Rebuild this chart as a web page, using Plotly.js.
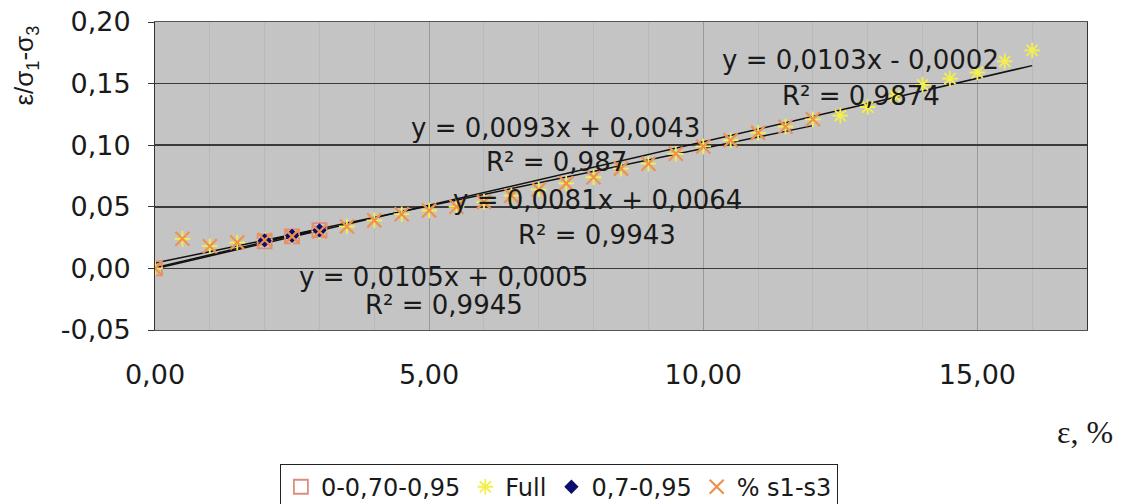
<!DOCTYPE html>
<html>
<head>
<meta charset="utf-8">
<script src="https://cdn.plot.ly/plotly-3.0.1.min.js"></script>
<style>
  html, body { margin: 0; padding: 0; background: #ffffff; }
  #chart { width: 1122px; height: 504px; }
</style>
</head>
<body>
<div id="chart"></div>
<script>
// ---- data ----
const seriesNames = ["0-0,70-0,95", "Full", "0,7-0,95", "% s1-s3"];

const squareX = [0, 2, 2.5, 3];
const squareY = [0.000, 0.022, 0.026, 0.031];

const fullX = [0, 0.5, 1, 1.5, 2, 2.5, 3, 3.5, 4, 4.5, 5, 5.5, 6, 6.5, 7, 7.5, 8, 8.5, 9, 9.5, 10, 10.5, 11, 11.5, 12, 12.5, 13, 13.5, 14, 14.5, 15, 15.5, 16];
const fullY = [0.000, 0.024, 0.018, 0.021, 0.023, 0.026, 0.030, 0.034, 0.039, 0.044, 0.047, 0.050, 0.054, 0.059, 0.064, 0.069, 0.074, 0.081, 0.085, 0.093, 0.099, 0.104, 0.110, 0.115, 0.121, 0.124, 0.131, 0.140, 0.149, 0.154, 0.159, 0.168, 0.177];

const diamondX = [2, 2.5, 3];
const diamondY = [0.0227, 0.0265, 0.0308];

const pctX = [0, 0.5, 1, 1.5, 2, 2.5, 3, 3.5, 4, 4.5, 5, 5.5, 6, 6.5, 7, 7.5, 8, 8.5, 9, 9.5, 10, 10.5, 11, 11.5, 12];
const pctY = [0.000, 0.024, 0.018, 0.021, 0.023, 0.026, 0.030, 0.034, 0.039, 0.044, 0.047, 0.050, 0.054, 0.059, 0.064, 0.069, 0.074, 0.081, 0.085, 0.093, 0.099, 0.104, 0.110, 0.115, 0.121];

// trendline equations shown on the chart (squares, % s1-s3, diamonds, Full)
const trendSlopes = [0.0105, 0.0093, 0.0081, 0.0103];
const trendIntercepts = [0.0005, 0.0043, 0.0064, -0.0002];
const trendR2 = ["0,9945", "0,987", "0,9943", "0,9874"];

const xTickVals = [0, 5, 10, 15];
const yTickVals = [-0.05, 0, 0.05, 0.10, 0.15, 0.20];

// ---- build ----
const trendSourceX = [squareX, pctX, diamondX, fullX];
const FONT = "DejaVu Sans, Verdana, sans-serif";
const TITLE_FONT = "Liberation Sans, Arial, sans-serif";

function comma(v, d) { return v.toFixed(d).replace('.', ','); }
function eqText(i) {
  const a = trendSlopes[i], b = trendIntercepts[i];
  return "y = " + comma(a, 4) + "x " + (b < 0 ? "- " : "+ ") + comma(Math.abs(b), 4);
}

const traces = [];
trendSourceX.forEach((xs, i) => {
  const x0 = Math.min(...xs), x1 = Math.max(...xs);
  traces.push({
    x: [x0, x1],
    y: [trendSlopes[i] * x0 + trendIntercepts[i], trendSlopes[i] * x1 + trendIntercepts[i]],
    mode: 'lines', type: 'scatter', showlegend: false, hoverinfo: 'skip',
    line: { color: '#111111', width: 1.5 }
  });
});

traces.push({
  name: seriesNames[0], x: squareX, y: squareY, mode: 'markers', type: 'scatter',
  marker: { symbol: 'square-open', size: 14, color: '#de8c7e', line: { width: 1.8 } }
});
traces.push({
  name: seriesNames[1], x: fullX, y: fullY, mode: 'markers', type: 'scatter',
  marker: { symbol: 'asterisk-open', size: 13, color: '#f4ef4a', line: { width: 1.8, color: '#f4ef4a' } }
});
traces.push({
  name: seriesNames[2], x: diamondX, y: diamondY, mode: 'markers', type: 'scatter',
  marker: { symbol: 'diamond', size: 11, color: '#0c0c6e' }
});
traces.push({
  name: seriesNames[3], x: pctX, y: pctY, mode: 'markers', type: 'scatter',
  marker: { symbol: 'x-thin-open', size: 14, color: '#ee9050', line: { width: 2.2, color: '#ee9050' } }
});

const annFont = { family: FONT, size: 26, color: '#1a1a1a' };
const annotations = [
  { x: 5.26, y: -0.0068, text: eqText(0) },
  { x: 5.28, y: -0.0295, text: "R² = " + trendR2[0] },
  { x: 7.30, y: 0.1138, text: eqText(1) },
  { x: 7.32, y: 0.0862, text: "R² = " + trendR2[1] },
  { x: 8.07, y: 0.0553, text: eqText(2) },
  { x: 8.07, y: 0.0268, text: "R² = " + trendR2[2] },
  { x: 12.86, y: 0.169, text: eqText(3) },
  { x: 12.88, y: 0.140, text: "R² = " + trendR2[3] }
].map(a => Object.assign({ xref: 'x', yref: 'y', showarrow: false, font: annFont, xanchor: 'center', yanchor: 'middle' }, a));

annotations.push({
  xref: 'paper', yref: 'paper', x: -0.139, y: 0.86, showarrow: false, textangle: -90,
  text: "ε/σ<sub>1</sub>-σ<sub>3</sub>", font: { family: TITLE_FONT, size: 26, color: '#1a1a1a' },
  xanchor: 'center', yanchor: 'middle'
});
annotations.push({
  xref: 'paper', yref: 'paper', x: 0.998, y: -0.331, showarrow: false,
  text: "ε, %", font: { family: "Liberation Serif, Times New Roman, serif", size: 32, color: '#1a1a1a' },
  xanchor: 'center', yanchor: 'middle'
});

const layout = {
  width: 1122, height: 504,
  margin: { l: 155, r: 35, t: 22, b: 174, autoexpand: false },
  paper_bgcolor: '#ffffff',
  plot_bgcolor: '#c4c4c4',
  separators: ', ',
  font: { family: FONT, color: '#1a1a1a' },
  showlegend: true,
  legend: {
    orientation: 'h', x: 0.134, y: -0.434, xanchor: 'left', yanchor: 'top',
    bgcolor: '#ffffff', bordercolor: '#222222', borderwidth: 1,
    font: { family: FONT, size: 24, color: '#1a1a1a' },
    itemwidth: 30, traceorder: 'normal'
  },
  xaxis: {
    range: [0, 17], tickvals: xTickVals, ticktext: xTickVals.map(v => comma(v, 2)),
    showgrid: true, gridcolor: '#9a9a9a', gridwidth: 1,
    minor: { dtick: 1, showgrid: true, gridcolor: '#b9b9b9', gridwidth: 1 },
    zeroline: false, showline: true, linecolor: '#555555', linewidth: 1, mirror: true,
    ticks: '', ticklabelstandoff: 21,
    tickfont: { family: FONT, size: 27, color: '#1a1a1a' }
  },
  yaxis: {
    range: [-0.05, 0.20], tickvals: yTickVals, ticktext: yTickVals.map(v => comma(v, 2)),
    showgrid: true, gridcolor: '#3a3a3a', gridwidth: 1.5,
    zeroline: false, showline: true, linecolor: '#333333', linewidth: 1, mirror: true,
    ticks: 'outside', ticklen: 6, tickcolor: '#333333', ticklabelstandoff: 12,
    tickfont: { family: FONT, size: 27, color: '#1a1a1a' }
  },
  annotations: annotations
};

Plotly.newPlot('chart', traces, layout, { staticPlot: true, displayModeBar: false });
</script>
</body>
</html>
